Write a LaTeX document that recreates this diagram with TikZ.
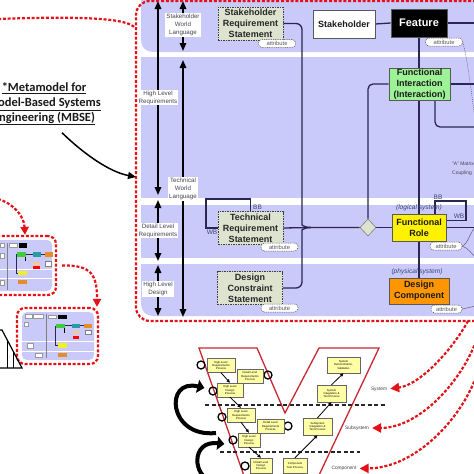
\documentclass[tikz,border=0pt]{standalone}
\usepackage{fontspec}
\setmainfont{Liberation Sans}
\newfontfamily\titlefont{Carlito}
\usetikzlibrary{arrows.meta,shapes.geometric}
\definecolor{lav}{RGB}{202,202,250}
\definecolor{navy}{RGB}{40,40,82}
\definecolor{rdash}{RGB}{228,18,24}
\definecolor{reqfill}{RGB}{222,227,208}
\definecolor{figreen}{RGB}{158,242,150}
\definecolor{dcorange}{RGB}{255,150,0}
\definecolor{vyellow}{RGB}{255,255,165}
\definecolor{labgrey}{RGB}{70,70,80}
\definecolor{slate}{RGB}{60,70,115}
\definecolor{vred}{RGB}{200,40,50}
\definecolor{thteal}{RGB}{40,155,165}
\definecolor{thgreen}{RGB}{60,205,60}
\definecolor{thorange}{RGB}{230,140,40}
\definecolor{thpale}{RGB}{250,200,140}
\definecolor{thyellow}{RGB}{240,240,40}
\pgfdeclarelayer{bg}
\pgfdeclarelayer{lines}
\pgfsetlayers{bg,lines,main}
\tikzset{
  reddash/.style={draw=rdash, line width=2.2pt, dash pattern=on 3pt off 1.8pt},
  redarr/.style={reddash, -{Triangle[length=9pt,width=9pt]}},
  conn/.style={draw=navy, line width=1.3pt},
  thinl/.style={draw=navy!75, line width=0.5pt},
  reqbox/.style={draw=black!75, dash pattern=on 1.5pt off 1pt, line width=0.6pt, fill=reqfill, minimum width=65pt, minimum height=33pt, inner sep=0pt, align=center, font=\bfseries\fontsize{9}{11}\selectfont, text=black!85},
  solidbox/.style={draw=black!65, line width=0.6pt, minimum height=28pt, inner sep=0pt, align=center, font=\bfseries\fontsize{9}{11}\selectfont, text=black!90},
  attr/.style={draw=black!70, dash pattern=on 1pt off 0.8pt, line width=0.5pt, fill=white, rounded corners=3.5pt, minimum width=37pt, minimum height=8pt, inner sep=0pt, font=\fontsize{5.8}{6}\selectfont, text=black!65},
  levlab/.style={fill=white, inner sep=1pt, align=center, font=\fontsize{6.2}{8}\selectfont, text=labgrey},
  levarr/.style={draw=black, line width=1.6pt, {Triangle[length=8pt,width=6.5pt]}-{Triangle[length=8pt,width=6.5pt]}},
  bbl/.style={inner sep=0pt, font=\fontsize{6.5}{7}\selectfont, text=slate},
  sysl/.style={inner sep=0pt, font=\itshape\fontsize{6.6}{7}\selectfont, text=slate},
  vbox/.style={draw=black!60, line width=0.4pt, fill=vyellow, inner sep=0pt, align=center, font=\fontsize{2.8}{3.4}\selectfont, minimum height=14pt},
  loopc/.style={circle, draw=black, line width=1.3pt, minimum size=8pt, inner sep=0pt},
  varr/.style={draw=black, line width=0.8pt, -{Triangle[length=3.5pt,width=3pt]}},
  bigc/.style={draw=black, line width=4pt, -{Triangle[length=7pt,width=13pt]}},
  vlab/.style={inner sep=0pt, font=\fontsize{4.8}{6}\selectfont, text=black!75},
  vdash/.style={draw=black!85, line width=1.2pt, dash pattern=on 4pt off 2.5pt},
  thumb/.style={reddash, rounded corners=8pt, inner sep=0pt},
  mini/.style={line width=0.2pt},
}
\begin{document}
\begin{tikzpicture}[x=1pt,y=-1pt]
\useasboundingbox (0,0) rectangle (474,474);
\begin{pgfonlayer}{bg}
  \fill[white] (0,0) rectangle (474,474);
  % lavender bands
  \fill[lav] (141,-5) -- (141,40) .. controls (141,47) and (146,52) .. (153,52) -- (490,52) -- (490,-5) -- cycle;
  \fill[lav] (141,57) rectangle (490,198);
  \fill[lav] (141,205) rectangle (490,258);
  \fill[lav] (141,264) -- (141,304) .. controls (141,311) and (146,316) .. (153,316) -- (490,316) -- (490,264) -- cycle;
  % thumbnail 1 content
  \fill[lav, rounded corners=5pt] (-20,240) rectangle (52,291);
  \fill[white] (-20,268.5) rectangle (52,270);
  \fill[white] (-20,277.5) rectangle (52,279);
  % thumbnail 2 content
  \fill[lav, rounded corners=5pt] (22,312) rectangle (94,360);
  \fill[white] (22,340.5) rectangle (94,342);
  \fill[white] (22,350.5) rectangle (94,352);
  % V model outline
  \draw[vred, line width=1.3pt] (249,490) -- (199,348) -- (257,348) -- (285,413) -- (319,348) -- (379,348) -- (312,490);
  \draw[vdash] (205,405) -- (385,405);
  \draw[vdash] (220,452) -- (360,452);
\end{pgfonlayer}

% ---------- main box ----------
\node[thumb, rounded corners=14pt, minimum width=354pt, minimum height=320pt] (mb) at (313,161) {};

% level labels
\node[levlab] (l1) at (183,25) {Stakeholder\\World\\Language};
\node[levlab] (l2) at (158,97.5) {High Level\\Requirements};
\node[levlab] (l3) at (183,189) {Technical\\World\\Language};
\node[levlab] (l4) at (158,230.5) {Detail Level\\Requirements};
\node[levlab] (l5) at (158,289) {High Level\\Design};
\coordinate (a1) at (158,1);   \coordinate (a2) at (158,195);
\coordinate (a3) at (158,200); \coordinate (a4) at (158,261);
\coordinate (a5) at (158,265); \coordinate (a6) at (158,316);
\coordinate (b1) at (183,1);   \coordinate (b2) at (183,51);
\coordinate (b3) at (183,60);  \coordinate (b4) at (183,317);

% requirement nodes
\node[reqbox] (srs) at (250.5,23.5) {Stakeholder\\Requirement\\Statement};
\node[reqbox] (trs) at (250.5,228) {Technical\\Requirement\\Statement};
\node[reqbox] (dcs) at (250,288) {Design\\Constraint\\Statement};
\node[attr] (srsA) at (277,43.5) {attribute};
\node[attr] (trsA) at (279.5,247) {attribute};
\node[attr] (dcsA) at (279.5,308) {attribute};

% right column nodes
\node[solidbox, fill=white, minimum width=62pt] (sh) at (344,24) {Stakeholder};
\node[solidbox, fill=black, text=white, minimum width=56pt, font=\bfseries\fontsize{11}{13}\selectfont] (feat) at (419,23) {Feature};
\node[solidbox, fill=figreen, minimum width=61pt, minimum height=32pt] (fi) at (419.5,84) {Functional\\Interaction\\(Interaction)};
\node[solidbox, fill=yellow, minimum width=54pt, minimum height=27pt] (fr) at (419,227.5) {Functional\\Role};
\node[solidbox, fill=dcorange, minimum width=60pt, minimum height=26pt] (dc) at (419,291) {Design\\Component};
\node[diamond, draw=black!50, line width=0.6pt, fill=reqfill, minimum width=16pt, minimum height=17pt, inner sep=0pt] (dia) at (368,227.5) {};
\node[attr] (featA) at (444,42) {attribute};
\node[attr, minimum width=32pt] (frA) at (446,246) {attribute};
\node[attr, minimum width=31pt] (dcA) at (446.5,309) {attribute};
\node[sysl] (lsys) at (419,208) {(logical system)};
\node[sysl] (psys) at (417,271.5) {(physical system)};
\node[inner sep=0pt, anchor=west, align=left, font=\fontsize{5}{8.5}\selectfont, text=labgrey] (amat) at (452,168.5) {“A” Matrix\\Coupling};
\node[bbl] (bb1) at (257.5,207) {BB};
\node[bbl] (wb1) at (212,232.5) {WB};
\node[bbl] (bb2) at (438,197) {BB};
\node[bbl] (wb2) at (459,216.5) {WB};

\coordinate (tip) at (311,227.5);
\coordinate (e1) at (480,23);
\coordinate (e2) at (480,84);
\coordinate (e3) at (480,127);
\coordinate (e4) at (480,227.5);
\coordinate (e5) at (476,125);
\coordinate (e6) at (476,226);
\coordinate (e7) at (476,258);
\coordinate (e8) at (476,306);

\begin{pgfonlayer}{lines}
  \draw[levarr] (a1) -- (a2);
  \draw[levarr] (a3) -- (a4);
  \draw[levarr] (a5) -- (a6);
  \draw[levarr] (b1) -- (b2);
  \draw[levarr] (b3) -- (b4);
  \draw[conn, rounded corners=6pt] (srs.east) -| (302,219) .. controls (302,225) and (305,227.5) .. (tip);
  \draw[conn, rounded corners=6pt] (dcs.east) -| (302,236) .. controls (302,230) and (305,227.5) .. (tip);
  \draw[conn] (trs.east) -- (tip) -- (dia.west);
  \draw[conn, rounded corners=5pt] (dia.north) |- (fi.west);
  \draw[conn] (dia.east) -- (fr.west);
  \draw[conn] (sh.east) -- (feat.west);
  \draw[conn] (feat.east) -- (e1);
  \draw[conn] (feat.south) -- (dc.north);
  \draw[conn] (fi.east) -- (e2);
  \draw[conn, rounded corners=5pt] ([xshift=15.5pt]fi.south) |- (e3);
  \draw[conn] (fr.east) -- (e4);
  \draw[conn, line width=1.1pt] (trs.north) |- (206,199) |- (trs.west);
  \draw[conn, line width=1.1pt] ([xshift=16pt]fr.north) |- (466,201) |- ([yshift=7pt]fr.east);
  \draw[thinl, dash pattern=on 1pt off 1pt] (featA.east) .. controls (468,60) and (472,100) .. (e5);
  \draw[thinl] (frA.east) .. controls (468,244) and (470,232) .. (e6);
  \draw[thinl] (frA.east) .. controls (468,248) and (472,254) .. (e7);
  \draw[thinl] (dcA.east) -- (e8);
\end{pgfonlayer}

% ---------- title and left side ----------
\node[font=\titlefont\bfseries\fontsize{12.5}{14.7}\selectfont, align=center, text=black!90] (title) at (44,104) {\underline{*Metamodel for}\\\underline{Model-Based Systems}\\\underline{Engineering (MBSE)}};
\coordinate (tb) at (136,177);
\draw[line width=1.5pt, -{Triangle[length=8pt,width=7pt]}] ([xshift=18pt,yshift=-4pt]title.south) .. controls (85,155) and (110,172) .. (tb);
\coordinate (rl) at (-2,19);
\draw[reddash] (rl) .. controls (80,16) and (128,18) .. ([yshift=-28pt]mb.north west);

\node[thumb, minimum width=76pt, minimum height=59pt] (th1) at (18,265.5) {};
\node[thumb, minimum width=81pt, minimum height=56pt] (th2) at (57.5,336) {};
\coordinate (r0) at (-2,199);
\draw[redarr, -{Triangle[length=8pt,width=8pt]}] (r0) .. controls (12,203) and (24,215) .. ([xshift=7pt]th1.north);
\draw[redarr, -{Triangle[length=8pt,width=8pt]}, shorten <=5pt] (th1.east) .. controls (92,265) and (97,275) .. ([xshift=39.5pt]th2.north);

% thumbnail 1 mini content
\draw[black!50, line width=0.5pt] (7,243) -- (7,290);
\draw[navy, line width=0.6pt] (16,254) -- (45,254);
\draw[navy, line width=0.6pt] (16,254) -- (16,273) -- (18,273);
\draw[black, line width=1pt] (25,256) -- (25,261);
\filldraw[mini, fill=white, draw=black!40] (0,243) rectangle (4,247.5);
\filldraw[mini, fill=white, draw=black!40] (9,243) rectangle (17,247.5);
\fill[black] (19,243) rectangle (27,247.5);
\fill[thgreen] (17,252) rectangle (26,256.5);
\fill[thteal] (33,252) rectangle (41,256.5);
\fill[thorange] (45,252) rectangle (53,256.5);
\fill[thpale] (33,261.5) rectangle (40,264.5);
\fill[red] (33,265.5) rectangle (40,268.5);
\filldraw[mini, fill=white, draw=black!50] (45,261.5) rectangle (51,266.5);
\fill[thyellow] (18,270.5) rectangle (27,275);
\fill[thorange] (18,280) rectangle (27,283.5);
\filldraw[mini, fill=white, draw=black!40] (0,253) rectangle (4,258);
\filldraw[mini, fill=white, draw=black!40] (0,280) rectangle (4,285);

% thumbnail 2 mini content
\draw[black!50, line width=0.5pt] (46,314) -- (46,358);
\draw[navy, line width=0.6pt] (56,325.5) -- (84,325.5);
\draw[navy, line width=0.6pt] (55,325.5) -- (55,345.5) -- (58,345.5);
\draw[black, line width=1pt] (64,327) -- (64,333);
\filldraw[mini, fill=white, draw=black!40] (25,314) rectangle (32,318);
\filldraw[mini, fill=white, draw=black!40] (33,314) rectangle (43,318);
\filldraw[mini, fill=white, draw=black!40] (48,315) rectangle (56,318.5);
\fill[black] (58,315) rectangle (67,318.5);
\fill[thgreen] (56,324) rectangle (65,327.5);
\fill[thteal] (72,324) rectangle (80,327.5);
\fill[thorange] (84,324) rectangle (92,327.5);
\fill[thpale] (73,331) rectangle (79,333.5);
\fill[red] (73,336) rectangle (79,339);
\filldraw[mini, fill=white, draw=black!50] (85,330) rectangle (91,334.5);
\fill[thyellow] (58,343) rectangle (67,348);
\fill[thorange] (58,353) rectangle (67,357);
\filldraw[mini, fill=white, draw=black!40] (27,343) rectangle (33,348);
\filldraw[mini, fill=white, draw=black!40] (35,353) rectangle (42,357);
\filldraw[mini, fill=white, draw=black!40] (24,322) rectangle (28,326);

% left triangle drawing
\draw[black, line width=1.2pt] (-2,330) -- (2,330) -- (22,368) -- (-2,368);
\draw[black, line width=1pt] (7,340) -- (7,368) (13,351) -- (13,368);

% ---------- V model ----------
\node[loopc] (c1) at (201,365) {};
\node[loopc] (c2) at (268,375) {};
\node[loopc] (c3) at (213,391) {};
\node[loopc] (c4) at (222,417) {};
\node[loopc] (c5) at (288,426) {};
\node[loopc] (c6) at (233,440) {};
\node[loopc] (c7) at (245,466) {};
\node[vbox, minimum width=28pt] (hlr1) at (221,365.5) {High Level\\Requirements\\Process};
\node[vbox, minimum width=26pt] (dlr1) at (250,376) {Detail Level\\Requirements\\Process};
\node[vbox, minimum width=26pt] (hld1) at (230,390) {High Level\\Design\\Process};
\node[vbox, minimum width=28pt] (hlr2) at (241,415) {High Level\\Requirements\\Process};
\node[vbox, minimum width=27pt] (dlr2) at (270.5,426) {Detail Level\\Requirements\\Process};
\node[vbox, minimum width=22pt] (hld2) at (249,440) {High Level\\Design\\Process};
\node[vbox, minimum width=22pt, minimum height=15pt] (dld) at (261,465.5) {Detail Level\\Design\\Process};
\node[vbox, minimum width=24pt, minimum height=15pt] (ctp) at (295,465.5) {Component\\Test Process};
\node[vbox, minimum width=29pt, minimum height=17pt] (ssit) at (317.5,426.5) {Subsystem\\Integration \&\\Test Process};
\node[vbox, minimum width=29pt, minimum height=17pt] (sysit) at (331.5,393.5) {System\\Integration \&\\Test Process};
\node[vbox, minimum width=33pt, minimum height=16pt] (sdv) at (343.5,365) {System\\Demonstration,\\Validation};
\draw[varr] (hlr1.south) -- (hld1.north);
\draw[varr] (hld1.south) -- (hlr2.north);
\draw[varr] (hlr2.south) -- (hld2.north);
\draw[varr] (hld2.south) -- (dld.north);
\draw[varr] (ctp.north) -- (ssit.south);
\draw[varr] (ssit.north) -- (sysit.south);
\draw[varr] (sysit.north) -- (sdv.south);
\coordinate (k1) at (216,433);
\coordinate (k2) at (212,480);
\draw[bigc] (k1) .. controls (168,438) and (164,378) .. ([xshift=-4pt,yshift=3pt]c3.west);
\draw[bigc] (k2) .. controls (193,478) and (190,440) .. ([xshift=-4pt,yshift=-4pt]c6.west);

% level labels and red arrows
\node[vlab] (sysl) at (379,389) {System};
\node[vlab] (subl) at (357,428) {Subsystem};
\node[vlab] (coml) at (344,468.5) {Component};
\coordinate (r1) at (468,321);
\coordinate (r2) at (476,341);
\coordinate (r3) at (476,377);
\draw[redarr, shorten >=3pt] (r1) .. controls (452,350) and (420,385) .. (sysl.east);
\draw[redarr, shorten >=3pt] (r2) .. controls (462,380) and (420,428) .. (subl.east);
\draw[redarr, shorten >=3pt] (r3) .. controls (460,420) and (415,468) .. (coml.east);
\end{tikzpicture}
\end{document}
